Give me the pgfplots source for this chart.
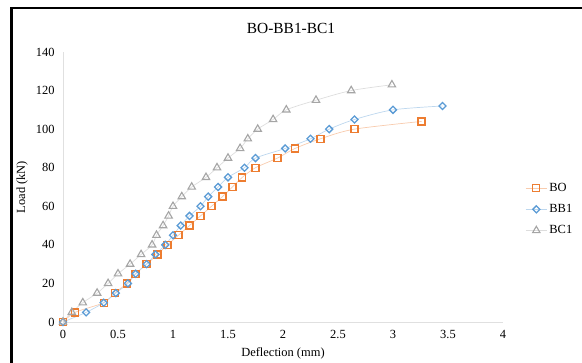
\documentclass[border=0pt]{standalone}
\usepackage{pgfplots}
\pgfplotsset{compat=1.18}
\usepackage{fontspec}
\setmainfont{Liberation Serif}
\definecolor{cO}{HTML}{ED7D31}
\definecolor{cOl}{HTML}{F8CBAD}
\definecolor{cB}{HTML}{5B9BD5}
\definecolor{cBl}{HTML}{BDD7EE}
\definecolor{cG}{HTML}{A5A5A5}
\definecolor{cGl}{HTML}{DDDDDD}
\begin{document}
\begin{tikzpicture}
\useasboundingbox (0,0) rectangle (582bp,363bp);
\draw[line width=2.5bp,black] (11.5bp,0) -- (11.5bp,355bp) -- (582bp,355bp);
\node[font=\fontsize{15.5}{18}\selectfont] at (291bp,335bp) {BO-BB1-BC1};
\begin{axis}[
  at={(63bp,41bp)}, anchor=south west,
  scale only axis, width=440bp, height=270bp,
  xmin=0, xmax=4, ymin=0, ymax=140,
  xtick={0,0.5,...,4}, ytick={0,20,...,140},
  xticklabels={0,0.5,1,1.5,2,2.5,3,3.5,4},
  axis x line*=bottom, axis y line*=left,
  axis line style={draw=black!12, line width=0.6bp},
  major tick length=0pt,
  /pgf/number format/assume math mode=true,
  ticklabel style={font=\fontsize{12.5}{14}\selectfont},
  xticklabel style={yshift=-5bp},
  yticklabel style={xshift=-5bp},
  xlabel={Deflection (mm)}, ylabel={Load (kN)},
  label style={font=\fontsize{12.5}{14}\selectfont},
  xlabel style={at={(axis description cs:0.5,-0.115)}, anchor=center},
  ylabel style={at={(axis description cs:-0.093,0.5)}, anchor=center},
  clip=false,
  legend style={at={(1.05,0.522)}, anchor=north west, draw=none, fill=none,
    font=\fontsize{12.5}{14}\selectfont, row sep=7.5bp, inner sep=0pt},
  legend cell align=left,
  legend image code/.code={\draw[mark repeat=2,mark phase=2,#1] plot coordinates {(0cm,0cm) (0.38cm,0cm) (0.76cm,0cm)};},
]
\addplot[smooth, draw=cOl, line width=0.7bp, mark=square, mark size=3.5bp,
  mark options={draw=cO, line width=1.3bp, solid}] coordinates {
(0,0)(0.11,5)(0.37,10)(0.47,15)(0.58,20)(0.66,25)(0.76,30)(0.86,35)(0.95,40)(1.05,45)(1.15,50)(1.25,55)(1.35,60)(1.45,65)(1.54,70)(1.63,75)(1.75,80)(1.95,85)(2.11,90)(2.34,95)(2.65,100)(3.26,104)};
\addlegendentry{BO}
\addplot[smooth, draw=cBl, line width=0.7bp, mark=square, mark size=2.5bp,
  mark options={draw=cB, line width=1.3bp, solid, rotate=45}] coordinates {
(0,0)(0.21,5)(0.37,10)(0.48,15)(0.59,20)(0.66,25)(0.76,30)(0.84,35)(0.93,40)(1.0,45)(1.07,50)(1.15,55)(1.25,60)(1.32,65)(1.41,70)(1.5,75)(1.65,80)(1.75,85)(2.02,90)(2.25,95)(2.42,100)(2.65,105)(3.0,110)(3.45,112)};
\addlegendentry{BB1}
\addplot[smooth, draw=cGl, line width=0.7bp, mark=triangle, mark size=4.3bp,
  mark options={draw=cG, line width=1.1bp, solid}] coordinates {
(0,0)(0.08,5)(0.18,10)(0.31,15)(0.41,20)(0.5,25)(0.61,30)(0.71,35)(0.81,40)(0.85,45)(0.91,50)(0.96,55)(1.0,60)(1.08,65)(1.17,70)(1.3,75)(1.4,80)(1.5,85)(1.61,90)(1.68,95)(1.77,100)(1.91,105)(2.03,110)(2.3,115)(2.62,120)(2.99,123)};
\addlegendentry{BC1}
\end{axis}
\end{tikzpicture}
\end{document}
